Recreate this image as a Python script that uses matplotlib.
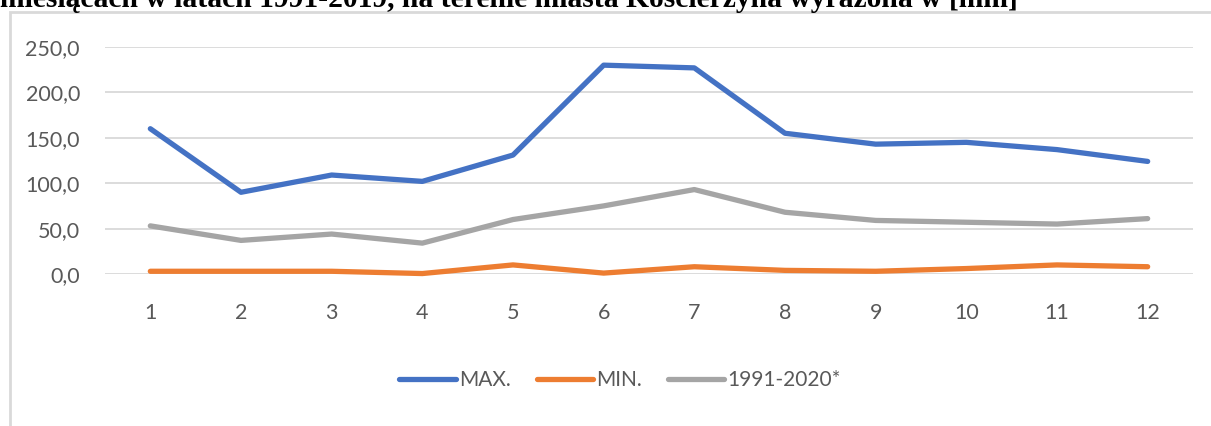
import matplotlib.pyplot as plt
from matplotlib.patches import Rectangle

# miesiące
months = [1, 2, 3, 4, 5, 6, 7, 8, 9, 10, 11, 12]

# opady [mm]
max_vals = [160, 90, 109, 102, 131, 230, 227, 155, 143, 145, 137, 124]
min_vals = [3, 3, 3, 0.5, 10, 1, 8, 4, 3, 6, 10, 8]
norm_vals = [53, 37, 44, 34, 60, 75, 93, 68, 59, 57, 55, 61]

yticks = [0, 50, 100, 150, 200, 250]
ylabels = ["0,0", "50,0", "100,0", "150,0", "200,0", "250,0"]

title = "miesiącach w latach 1991-2019, na terenie miasta Kościerzyna wyrażona w [mm]"

fonts = ["Lato", "DejaVu Sans"]

W, H = 1211, 426
fig = plt.figure(figsize=(W / 100, H / 100), dpi=100)

# ramka wykresu (ucięta)
fig.patches.append(Rectangle((10 / W, -0.1), 1.2, 1 - 12 / H + 0.1,
                             transform=fig.transFigure, fill=False,
                             edgecolor="#d9d9d9", linewidth=2))

# tytuł - obcięty u góry jak w oryginale
fig.text(0.0, 1 - 7 / H, title, fontsize=21.3, fontweight="bold",
         family="Liberation Serif", ha="left", va="baseline")

ax = fig.add_axes([105 / W, 1 - 274 / H, (1193 - 105) / W, (274 - 47) / H])

ax.plot(months, max_vals, color="#4472c4", lw=3.8, label="MAX.",
        solid_capstyle="round", solid_joinstyle="round", clip_on=False)
ax.plot(months, min_vals, color="#ed7d31", lw=3.8, label="MIN.",
        solid_capstyle="round", solid_joinstyle="round", clip_on=False)
ax.plot(months, norm_vals, color="#a5a5a5", lw=3.8, label="1991-2020*",
        solid_capstyle="round", solid_joinstyle="round", clip_on=False)

ax.set_xlim(0.5, 12.5)
ax.set_ylim(0, 250)
ax.set_yticks(yticks)
ax.set_yticklabels(ylabels)
ax.set_xticks(months)
ax.set_xticklabels([str(m) for m in months])

ax.grid(axis="y", color="#d9d9d9", lw=1.3)
ax.set_axisbelow(True)
for s in ax.spines.values():
    s.set_visible(False)
ax.tick_params(length=0, labelsize=15.5, labelcolor="#595959", pad=18)
ax.tick_params(axis="x", pad=21)
for lab in ax.get_xticklabels() + ax.get_yticklabels():
    lab.set_family(fonts)

leg = fig.legend(loc="center", bbox_to_anchor=(620 / W, 1 - 380 / H), ncol=3,
                 frameon=False, handlelength=2.7, handletextpad=0.15,
                 columnspacing=1.25, prop={"family": fonts, "size": 15})
for t in leg.get_texts():
    t.set_color("#595959")

fig.savefig("out.png", dpi=100)
